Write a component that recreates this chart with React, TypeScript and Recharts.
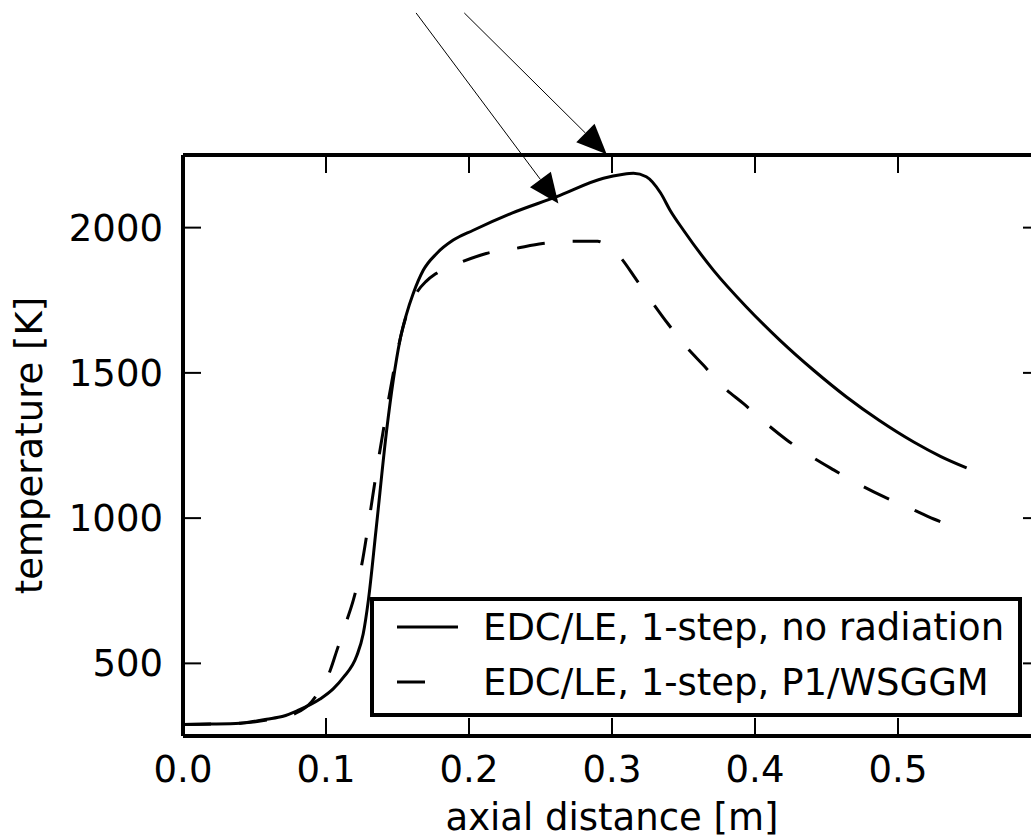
import React from 'react';
import { LineChart, Line, XAxis, YAxis, ReferenceLine, Legend, Label } from 'recharts';

const FONT = '"DejaVu Sans", sans-serif';
const FS = 37;

// axial distance [m] / temperature [K]
const solidX = [0, 0.02, 0.04, 0.0585, 0.07, 0.0795, 0.0958, 0.105, 0.112, 0.1215, 0.126, 0.1296, 0.135, 0.1424, 0.147, 0.1517, 0.1564, 0.161, 0.168, 0.1774, 0.189, 0.203, 0.23, 0.261, 0.294, 0.307, 0.315, 0.324, 0.334, 0.3406, 0.35, 0.371, 0.394, 0.4175, 0.441, 0.464, 0.487, 0.511, 0.53, 0.548];
const solidT = [290, 291, 294, 308, 318, 336, 377, 412, 451, 526, 601, 716, 960, 1302, 1474, 1612, 1704, 1773, 1853, 1911, 1957, 1991, 2050, 2106, 2170, 2183, 2187, 2175, 2119, 2060, 1991, 1853, 1727, 1612, 1509, 1417, 1336, 1262, 1212, 1173];

const dashX = [0, 0.02, 0.04, 0.06, 0.0795, 0.09, 0.096, 0.1028, 0.1075, 0.1145, 0.119, 0.125, 0.13, 0.135, 0.14, 0.147, 0.152, 0.157, 0.163, 0.17, 0.177, 0.195, 0.212, 0.232, 0.2515, 0.271, 0.29, 0.297, 0.3056, 0.317, 0.328, 0.339, 0.352, 0.364, 0.378, 0.392, 0.408, 0.422, 0.44, 0.455, 0.473, 0.49, 0.508, 0.525, 0.547];
const dashT = [290, 291, 294, 306, 330, 368, 410, 474, 543, 647, 716, 840, 990, 1150, 1300, 1497, 1620, 1710, 1773, 1815, 1842, 1882, 1911, 1928, 1945, 1953, 1953, 1937, 1899, 1821, 1744, 1670, 1589, 1526, 1451, 1394, 1325, 1270, 1210, 1166, 1116, 1074, 1035, 997, 955];

const seriesNames = ['EDC/LE, 1-step, no radiation', 'EDC/LE, 1-step, P1/WSGGM'];
const xTicks = [0, 0.1, 0.2, 0.3, 0.4, 0.5];
const yTicks = [500, 1000, 1500, 2000];
const xDomain = [0, 0.6];
const yDomain = [250, 2250];

// annotation arrows (data coordinates)
const arrowStartX = [0.163, 0.1967];
const arrowStartT = [2739, 2739];
const arrowEndX = [0.2625, 0.2963];
const arrowEndT = [2083, 2253];

const solidData = solidX.map((x, i) => ({ x, t: solidT[i] }));
const dashData = dashX.map((x, i) => ({ x, t: dashT[i] }));

const txt = { fontSize: FS, fontFamily: FONT, fill: '#000' } as const;

const BottomTick = (p: any) => (
  <g>
    <line x1={p.x} x2={p.x} y1={p.y} y2={p.y - 18} stroke="#000" strokeWidth={2} />
    <text x={p.x} y={p.y + 46} textAnchor="middle" {...txt}>{Number(p.payload.value).toFixed(1)}</text>
  </g>
);
const TopTick = (p: any) => (
  <g><line x1={p.x} x2={p.x} y1={p.y} y2={p.y + 18} stroke="#000" strokeWidth={2} /></g>
);
const LeftTick = (p: any) => (
  <g>
    <line x1={p.x} x2={p.x + 18} y1={p.y} y2={p.y} stroke="#000" strokeWidth={2} />
    <text x={p.x - 20} y={p.y + 13} textAnchor="end" {...txt}>{p.payload.value}</text>
  </g>
);
const RightTick = (p: any) => (
  <g><line x1={p.x} x2={p.x - 18} y1={p.y} y2={p.y} stroke="#000" strokeWidth={2} /></g>
);

const ArrowShape = (p: any) => {
  const { x1, y1, x2, y2 } = p;
  const dx = x2 - x1, dy = y2 - y1;
  const len = Math.sqrt(dx * dx + dy * dy) || 1;
  const ux = dx / len, uy = dy / len;
  const hl = 30, hw = 13;
  const bx = x2 - ux * hl, by = y2 - uy * hl;
  const pts = `${x2},${y2} ${bx - uy * hw},${by + ux * hw} ${bx + uy * hw},${by - ux * hw}`;
  return (
    <g>
      <line x1={x1} y1={y1} x2={bx} y2={by} stroke="#000" strokeWidth={1} />
      <polygon points={pts} fill="#000" />
    </g>
  );
};

const LegendBox = (props: any) => {
  const payload = props.payload || [];
  const rows = seriesNames.map((name) => {
    const entry = payload.find((e: any) => e.value === name);
    const dash = entry && entry.payload ? entry.payload.strokeDasharray : undefined;
    return { name, dash };
  });
  return (
    <svg width={652} height={120} style={{ display: 'block' }}>
      <rect x={2} y={2} width={648} height={116} fill="#fff" stroke="#000" strokeWidth={4} />
      {rows.map((r, i) => {
        const cy = 30 + i * 55;
        return (
          <g key={r.name}>
            <line x1={27} x2={r.dash ? 55 : 88} y1={cy} y2={cy} stroke="#000" strokeWidth={3} />
            <text x={113} y={cy + 13} {...txt}>{r.name}</text>
          </g>
        );
      })}
    </svg>
  );
};

const YLabel = (p: any) => {
  const vb = p.viewBox;
  const cx = vb.x + vb.width - 141;
  const cy = vb.y + vb.height / 2;
  return <text transform={`translate(${cx},${cy}) rotate(-90)`} textAnchor="middle" {...txt}>temperature [K]</text>;
};
const XLabel = (p: any) => {
  const vb = p.viewBox;
  return <text x={vb.x + vb.width / 2} y={vb.y + 94} textAnchor="middle" {...txt}>axial distance [m]</text>;
};

export default function App() {
  return (
    <div style={{ position: 'absolute', left: 0, top: 0, width: 1031, height: 840, overflow: 'hidden', background: '#fff' }}>
      <LineChart width={1100} height={840} data={solidData} margin={{ top: 154, right: 58, bottom: 44, left: 83 }}>
        <XAxis xAxisId={0} dataKey="x" type="number" domain={xDomain} ticks={xTicks} allowDataOverflow
          height={60} tickSize={0} tickMargin={0} tickLine={false} tick={BottomTick} interval={0}
          axisLine={{ stroke: '#000', strokeWidth: 4 }}>
          <Label content={XLabel} />
        </XAxis>
        <XAxis xAxisId="top" orientation="top" dataKey="x" type="number" domain={xDomain} ticks={xTicks} allowDataOverflow
          height={1} tickSize={0} tickMargin={0} tickLine={false} tick={TopTick} interval={0}
          axisLine={{ stroke: '#000', strokeWidth: 4 }} />
        <YAxis yAxisId={0} dataKey="t" type="number" domain={yDomain} ticks={yTicks} allowDataOverflow width={100}
          tickSize={0} tickMargin={0} tickLine={false} tick={LeftTick} interval={0}
          axisLine={{ stroke: '#000', strokeWidth: 4 }}>
          <Label content={YLabel} />
        </YAxis>
        <YAxis yAxisId="right" orientation="right" dataKey="t" type="number" domain={yDomain} ticks={yTicks} allowDataOverflow width={1}
          tickSize={0} tickMargin={0} tickLine={false} tick={RightTick} interval={0}
          axisLine={{ stroke: '#000', strokeWidth: 4 }} />
        <Line dataKey="t" name={seriesNames[0]} type="monotone" stroke="#000" strokeWidth={3}
          dot={false} activeDot={false} isAnimationActive={false} />
        <Line data={dashData} dataKey="t" name={seriesNames[1]} type="monotone" stroke="#000" strokeWidth={3}
          strokeDasharray="28 28" dot={false} activeDot={false} isAnimationActive={false} />
        {arrowStartX.map((sx, i) => (
          <ReferenceLine key={i} ifOverflow="visible"
            segment={[{ x: sx, y: arrowStartT[i] }, { x: arrowEndX[i], y: arrowEndT[i] }]}
            shape={ArrowShape} />
        ))}
        <Legend verticalAlign="middle" align="center" layout="horizontal" content={LegendBox}
          wrapperStyle={{ left: 370, top: 597, width: 652, height: 120, margin: 0, padding: 0 }} />
      </LineChart>
    </div>
  );
}
